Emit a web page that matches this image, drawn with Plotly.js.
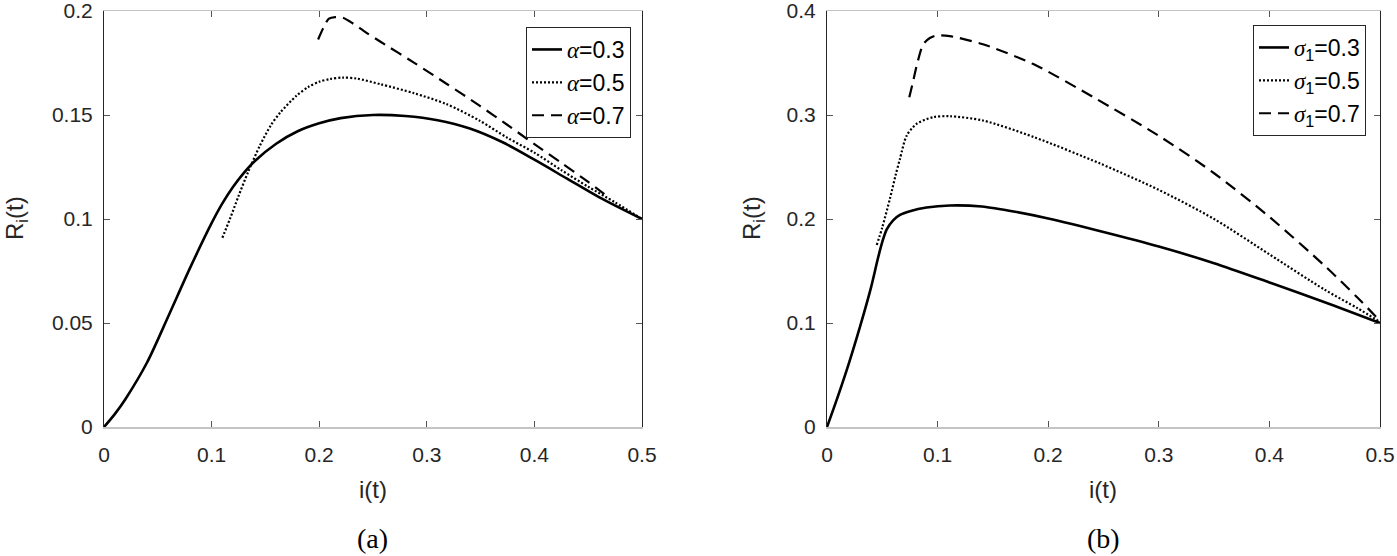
<!DOCTYPE html>
<html>
<head>
<meta charset="utf-8">
<script src="https://cdn.plot.ly/plotly-3.0.1.min.js"></script>
<style>
  html, body { margin: 0; padding: 0; background: #fff; }
  #chart { width: 1397px; height: 556px; }
</style>
</head>
<body>
<div id="chart"></div>
<script>
// Panel (a): R_i(t) vs i(t) for different alpha
const aSolidX = [0, 0.01, 0.02, 0.04, 0.06, 0.08, 0.1, 0.11, 0.12, 0.13, 0.14, 0.16, 0.18, 0.2, 0.22, 0.25, 0.28, 0.31, 0.34, 0.37, 0.4, 0.43, 0.46, 0.5];
const aSolidY = [0, 0.0062, 0.0135, 0.031, 0.0535, 0.0765, 0.098, 0.1075, 0.1155, 0.1222, 0.1278, 0.1362, 0.1422, 0.146, 0.1485, 0.1500, 0.1495, 0.1475, 0.1435, 0.137, 0.1285, 0.1195, 0.1105, 0.1];

const aDotX = [0.11, 0.117, 0.125, 0.134, 0.145, 0.155, 0.164, 0.179, 0.19, 0.2, 0.21, 0.222, 0.235, 0.257, 0.288, 0.318, 0.349, 0.375, 0.4, 0.425, 0.45, 0.475, 0.5];
const aDotY = [0.091, 0.100, 0.111, 0.1227, 0.1354, 0.145, 0.1513, 0.1593, 0.1635, 0.166, 0.1673, 0.168, 0.1675, 0.1648, 0.1605, 0.1553, 0.1473, 0.139, 0.1319, 0.1235, 0.1155, 0.108, 0.1];

const aDashX = [0.199, 0.204, 0.209, 0.215, 0.222, 0.229, 0.244, 0.257, 0.288, 0.319, 0.349, 0.375, 0.4, 0.425, 0.45, 0.465];
const aDashY = [0.1863, 0.192, 0.1963, 0.1971, 0.1968, 0.1948, 0.1895, 0.1852, 0.1752, 0.1648, 0.1545, 0.1452, 0.136, 0.127, 0.1178, 0.112];

const aNames = ['0.3', '0.5', '0.7'];
const aYTicks = [0, 0.05, 0.1, 0.15, 0.2];
const aYText = ['0', '0.05', '0.1', '0.15', '0.2'];

// Panel (b): R_i(t) vs i(t) for different sigma_1
const bSolidX = [0, 0.01, 0.02, 0.03, 0.04, 0.046, 0.05, 0.054, 0.06, 0.066, 0.075, 0.09, 0.111, 0.14, 0.17, 0.2, 0.25, 0.3, 0.35, 0.4, 0.45, 0.5];
const bSolidY = [0, 0.03, 0.062, 0.097, 0.135, 0.162, 0.178, 0.19, 0.199, 0.204, 0.2075, 0.211, 0.213, 0.212, 0.207, 0.2005, 0.1875, 0.1735, 0.1575, 0.139, 0.12, 0.1];

const bDotX = [0.045, 0.05, 0.057, 0.062, 0.066, 0.072, 0.081, 0.096, 0.111, 0.141, 0.187, 0.247, 0.3, 0.35, 0.4, 0.45, 0.48, 0.5];
const bDotY = [0.175, 0.192, 0.22, 0.242, 0.258, 0.28, 0.2915, 0.2979, 0.2988, 0.2947, 0.2788, 0.2533, 0.228, 0.2, 0.166, 0.132, 0.114, 0.101];

const bDashX = [0.0744, 0.078, 0.081, 0.087, 0.093, 0.099, 0.111, 0.141, 0.187, 0.241, 0.3, 0.35, 0.4, 0.45, 0.48, 0.5];
const bDashY = [0.317, 0.333, 0.347, 0.368, 0.374, 0.3765, 0.3758, 0.368, 0.3487, 0.317, 0.28, 0.244, 0.202, 0.155, 0.124, 0.102];

const bNames = ['0.3', '0.5', '0.7'];
const bYTicks = [0, 0.1, 0.2, 0.3, 0.4];
const bYText = ['0', '0.1', '0.2', '0.3', '0.4'];

const xTicks = [0, 0.1, 0.2, 0.3, 0.4, 0.5];
const xText = ['0', '0.1', '0.2', '0.3', '0.4', '0.5'];

const styles = [
  { color: '#000', width: 2.6, dash: 'solid' },
  { color: '#000', width: 2.2, dash: '2px,2px' },
  { color: '#000', width: 2.2, dash: '12px,7px' }
];

const sans = 'Liberation Sans, Arial, sans-serif';
const serif = 'Liberation Serif, Times New Roman, serif';
const alphaLabel = v => `<span style="font-family:${serif}"><i>α</i></span>=${v}`;
const sigmaLabel = v => `<span style="font-family:${serif}"><i>σ</i></span><sub>1</sub>=${v}`;

function line(x, y, i, name, xa, ya, legend) {
  return {
    x, y, type: 'scatter', mode: 'lines', name,
    xaxis: xa, yaxis: ya, legend,
    line: { color: styles[i].color, width: styles[i].width, dash: styles[i].dash, shape: 'spline', smoothing: 0.8 },
    hoverinfo: 'skip'
  };
}

const traces = [
  line(aSolidX, aSolidY, 0, alphaLabel(aNames[0]), 'x', 'y', 'legend'),
  line(aDotX, aDotY, 1, alphaLabel(aNames[1]), 'x', 'y', 'legend'),
  line(aDashX, aDashY, 2, alphaLabel(aNames[2]), 'x', 'y', 'legend'),
  line(bSolidX, bSolidY, 0, sigmaLabel(bNames[0]), 'x2', 'y2', 'legend2'),
  line(bDotX, bDotY, 1, sigmaLabel(bNames[1]), 'x2', 'y2', 'legend2'),
  line(bDashX, bDashY, 2, sigmaLabel(bNames[2]), 'x2', 'y2', 'legend2')
];

const W = 1397, H = 556;
const tickFont = { family: sans, size: 21, color: '#262626' };

function xAxis(domain, anchor) {
  return {
    domain, anchor, range: [0, 0.5],
    tickmode: 'array', tickvals: xTicks, ticktext: xText,
    showgrid: false, zeroline: false,
    showline: true, linecolor: '#c4c4c4', linewidth: 1.5, mirror: 'ticks',
    ticks: 'inside', ticklen: 6, tickcolor: '#555', tickwidth: 1,
    tickfont: tickFont, ticklabelstandoff: 8, ticklabeloverflow: 'allow'
  };
}
function yAxis(domain, anchor, top, vals, text) {
  return {
    domain, anchor, range: [0, top],
    tickmode: 'array', tickvals: vals, ticktext: text,
    showgrid: false, zeroline: false,
    showline: true, linecolor: '#262626', linewidth: 1, mirror: 'ticks',
    ticks: 'inside', ticklen: 6, tickcolor: '#555', tickwidth: 1,
    tickfont: tickFont, ticklabelstandoff: 6, ticklabeloverflow: 'allow'
  };
}

const yDom = [(H - 427) / H, (H - 11) / H];

const legendBase = {
  bgcolor: '#fff', bordercolor: '#262626', borderwidth: 1,
  font: { family: sans, size: 23, color: '#000' },
  xanchor: 'right', yanchor: 'top', tracegroupgap: 0
};

const annFont = { family: sans, size: 24, color: '#262626' };
const capFont = { family: serif, size: 28, color: '#000' };

function label(text, px, py, font, angle) {
  return {
    text, x: px / W, y: 1 - py / H, xref: 'paper', yref: 'paper',
    xanchor: 'center', yanchor: 'middle', showarrow: false,
    textangle: angle || 0, font
  };
}

const layout = {
  width: W, height: H,
  margin: { l: 0, r: 0, t: 0, b: 0 },
  paper_bgcolor: '#fff', plot_bgcolor: '#fff',
  showlegend: true,
  xaxis: xAxis([104 / W, 642 / W], 'y'),
  yaxis: yAxis(yDom, 'x', 0.2, aYTicks, aYText),
  xaxis2: xAxis([827 / W, 1380 / W], 'y2'),
  yaxis2: yAxis(yDom, 'x2', 0.4, bYTicks, bYText),
  legend: Object.assign({}, legendBase, { x: 631 / W, y: 1 - 27 / H }),
  legend2: Object.assign({}, legendBase, { x: 1366 / W, y: 1 - 25 / H }),
  annotations: [
    label('i(t)', 373, 489, annFont),
    label('i(t)', 1103, 489, annFont),
    label('R<sub>i</sub>(t)', 16, 218, annFont, -90),
    label('R<sub>i</sub>(t)', 753, 218, annFont, -90),
    label('(a)', 373, 538, capFont),
    label('(b)', 1103, 538, capFont)
  ]
};

Plotly.newPlot('chart', traces, layout, { displayModeBar: false, staticPlot: true });
</script>
</body>
</html>
